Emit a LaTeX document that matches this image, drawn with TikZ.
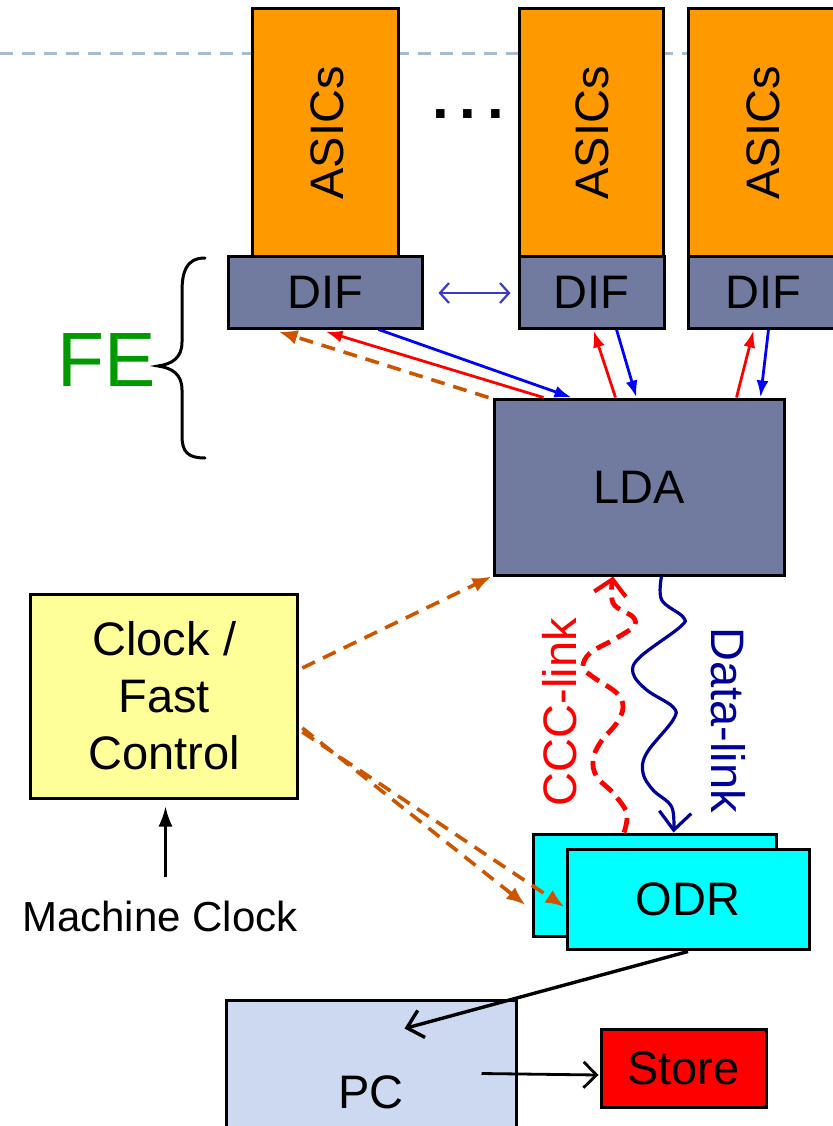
\documentclass[tikz,border=0pt]{standalone}
\usepackage{fontspec}
\setmainfont{Liberation Sans}
\usetikzlibrary{arrows.meta,calc}
\definecolor{asicc}{HTML}{FF9900}
\definecolor{difc}{HTML}{717BA0}
\definecolor{clockc}{HTML}{FFFF99}
\definecolor{odrc}{HTML}{00FFFF}
\definecolor{pcc}{HTML}{CCD9F0}
\definecolor{storec}{HTML}{FF0000}
\definecolor{orangec}{HTML}{CC5500}
\definecolor{redc}{HTML}{FF0000}
\definecolor{bluec}{HTML}{0000FF}
\definecolor{dblc}{HTML}{3A3ACC}
\definecolor{navyc}{HTML}{000099}
\definecolor{fec}{HTML}{009900}
\definecolor{grayc}{HTML}{A8BBCF}
\newcommand\bigf{\fontsize{47}{57}\selectfont}
\begin{document}
\begin{tikzpicture}[x=1pt,y=-1pt,
  blk/.style={draw=black, line width=3pt, inner sep=0pt, font=\bigf},
  lnk/.style={line width=2.8pt},
  soltip/.style={-{Latex[length=17pt,width=12pt]}},
  odash/.style={draw=orangec, line width=3.6pt, dash pattern=on 14pt off 9pt, -{Latex[length=19pt,width=15pt]}},
  lbl/.style={inner sep=0pt, font=\bigf}
]
\useasboundingbox (0,0) rectangle (832,1126);
% background dashed guide line
\draw[grayc, line width=3pt, dash pattern=on 13pt off 9pt] (0,54) -- (832,54);

% ASICs
\node[blk, fill=asicc, minimum width=146pt, minimum height=248pt] (asic1) at (325,133) {};
\node[blk, fill=asicc, minimum width=144pt, minimum height=248pt] (asic2) at (591,133) {};
\node[blk, fill=asicc, minimum width=150pt, minimum height=248pt] (asic3) at (763,133) {};
\node[lbl, rotate=90] (asict1) at (327,133) {ASICs};
\node[lbl, rotate=90] (asict2) at (592,133) {ASICs};
\node[lbl, rotate=90] (asict3) at (763,133) {ASICs};
\node[inner sep=0pt, font=\fontsize{60}{60}\selectfont\bfseries] (dots) at (468,114) {.\kern11pt.\kern11pt.};

% DIFs
\node[blk, fill=difc, minimum width=194pt, minimum height=72pt] (dif1) at (325,292) {DIF};
\node[blk, fill=difc, minimum width=145pt, minimum height=72pt] (dif2) at (591.5,292) {DIF};
\node[blk, fill=difc, minimum width=150pt, minimum height=72pt] (dif3) at (763,292) {DIF};

% FE brace
\draw[line width=3pt, line cap=round]
  (205,258) .. controls (186,258) and (182,272) .. (182,292) -- (182,342)
  .. controls (182,358) and (172,364) .. (158,366)
  .. controls (172,368) and (182,374) .. (182,390) -- (182,436)
  .. controls (182,452) and (188,458) .. (205,458);
\node[inner sep=0pt, text=fec, font=\fontsize{77}{77}\selectfont] (fe) at (107,360) {FE};

% LDA
\node[blk, fill=difc, minimum width=290pt, minimum height=176pt] (lda) at (639,487) {LDA};

% Clock
\node[blk, fill=clockc, minimum width=267pt, minimum height=204pt, align=center] (clock) at (164.3,696) {Clock /\\Fast\\Control};
\node[inner sep=0pt, font=\fontsize{42}{50}\selectfont] (mc) at (160,916) {Machine Clock};
\coordinate (mctop) at (165.5,877);
\draw[line width=2.2pt, -{Latex[length=20pt,width=14pt]}] (mctop) -- ($(clock.south)+(1.2,7)$);

% ODR
\node[blk, fill=odrc, minimum width=243pt, minimum height=102pt] (odrback) at (654.5,885) {};
\node[blk, fill=odrc, minimum width=242pt, minimum height=100pt] (odr) at (688,899) {ODR};

% PC and Store
\node[blk, fill=pcc, minimum width=290pt, minimum height=150pt] (pc) at (371,1075) {};
\node[lbl] (pctext) at (371,1092) {PC};
\node[blk, fill=storec, minimum width=165pt, minimum height=78pt] (store) at (683.5,1068) {Store};

% double arrow between DIFs
\draw[dblc, line width=2.2pt, {Straight Barb[length=9pt,width=20pt]}-{Straight Barb[length=9pt,width=20pt]}]
  ($(dif1.east)+(15,1)$) -- ($(dif2.west)+(-7,1)$);

% LDA <-> DIF links
\draw[odash] ($(lda.north west)+(-4,0)$) -- ($(dif1.south west)+(52,2)$);
\draw[lnk, redc, soltip] ($(lda.north west)+(51,0)$) -- ($(dif1.south west)+(99,2)$);
\draw[lnk, bluec, soltip] ($(dif1.south west)+(152,0)$) -- ($(lda.north west)+(79,0)$);
\draw[lnk, redc, soltip] ($(lda.north west)+(123,0)$) -- ($(dif2.south west)+(76,1)$);
\draw[lnk, bluec, soltip] ($(dif2.south west)+(99,0)$) -- ($(lda.north west)+(144,0)$);
\draw[lnk, redc, soltip] ($(lda.north west)+(244,0)$) -- ($(dif3.south west)+(67,1)$);
\draw[lnk, bluec, soltip] ($(dif3.south west)+(82,0)$) -- ($(lda.north west)+(268,0)$);

% Clock -> LDA, ODR
\draw[odash] ($(clock.east)+(3,-28)$) -- ($(lda.south west)+(-1,0)$);
\draw[odash] ($(clock.east)+(3,32)$) -- ($(odrback.west)+(-6,20)$);
\draw[odash] ($(clock.east)+(3,36)$) -- ($(odr.west)+(-1,8)$);

% CCC-link
\coordinate (cccs) at ($(odrback.north)+(-30.5,0)$);
\coordinate (ccce) at ($(lda.south)+(-26,0)$);
\draw[redc, line width=4.8pt, dash pattern=on 15pt off 8pt,
  -{Straight Barb[length=15pt,width=32pt,line width=4.2pt]}]
  plot[smooth, tension=0.6] coordinates {(cccs) (626.7,813) (613,793) (596.7,776.7) (593,760) (600,743)
   (616.7,723) (623,707) (616.7,693) (593,677) (583,667) (590,653) (613,640) (633,627) (633,617) (613,603) (ccce)};
\node[lbl, text=redc, rotate=90] (ccclbl) at (560,712) {CCC-link};

% Data-link
\coordinate (dls) at ($(lda.south)+(22.5,0)$);
\coordinate (dle) at ($(odrback.north)+(19,0)$);
\draw[navyc, line width=3.2pt, -{Straight Barb[length=18pt,width=32pt,line width=3.2pt]}]
  plot[smooth, tension=0.6] coordinates {(dls) (661.7,600) (683,617) (680,627) (640,657) (633,673) (646.7,690)
   (673,707) (673,720) (646.7,753) (643,773) (653,790) (671.7,807) (dle)};
\node[lbl, text=navyc, rotate=-90] (dllbl) at (728,720) {Data-link};

% ODR -> PC, PC -> Store
\draw[line width=3.4pt, -{Straight Barb[length=15pt,width=28pt,line width=3.4pt]}] ($(odr.south)+(0,1)$) -- ($(pc.north west)+(180,30)$);
\draw[line width=2.8pt, -{Straight Barb[length=13pt,width=26pt,line width=2.8pt]}] ($(pc.north west)+(257,75)$) -- ($(store.west)+(-1,7)$);
\end{tikzpicture}
\end{document}
